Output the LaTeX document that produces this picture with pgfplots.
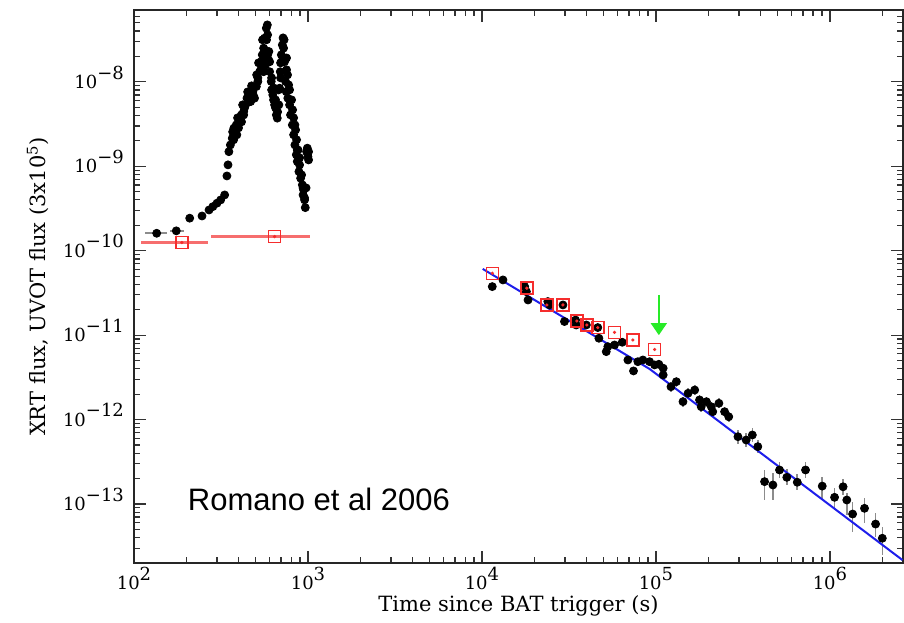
\documentclass[border=0pt]{standalone}
\usepackage{fontspec}
\setmainfont{DejaVu Serif}
\newfontfamily\arialfont{Liberation Sans}
\usepackage{pgfplots}
\pgfplotsset{compat=1.18}
\usetikzlibrary{arrows.meta}

\definecolor{uvotred}{RGB}{245,45,45}
\definecolor{uvotbar}{RGB}{246,110,110}
\definecolor{fitblue}{RGB}{30,30,235}
\definecolor{arrowgreen}{RGB}{40,235,40}
\definecolor{errgray}{RGB}{140,140,140}

% 10^n label, exponent raised and smashed so "10" sits on the tick
\newcommand{\tl}[1]{10\smash{\raisebox{0.52em}{#1}}}

\begin{document}
\begin{tikzpicture}
\begin{axis}[
  xmode=log, ymode=log,
  scale only axis, width=384.5pt, height=276.5pt,
  xmin=100, xmax=2.63e6, ymin=2e-14, ymax=7.1e-8,
  xtick={1e2,1e3,1e4,1e5,1e6},
  xticklabels={\tl{2},\tl{3},\tl{4},\tl{5},\tl{6}},
  ytick={1e-13,1e-12,1e-11,1e-10,1e-9,1e-8},
  yticklabels={\tl{−13},\tl{−12},\tl{−11},\tl{−10},\tl{−9},\tl{−8}},
  minor xtick={200,300,400,500,600,700,800,900,2000,3000,4000,5000,6000,7000,8000,9000,
    2e4,3e4,4e4,5e4,6e4,7e4,8e4,9e4,2e5,3e5,4e5,5e5,6e5,7e5,8e5,9e5,2e6},
  minor ytick={3e-14,4e-14,5e-14,6e-14,7e-14,8e-14,9e-14,
    2e-13,3e-13,4e-13,5e-13,6e-13,7e-13,8e-13,9e-13,
    2e-12,3e-12,4e-12,5e-12,6e-12,7e-12,8e-12,9e-12,
    2e-11,3e-11,4e-11,5e-11,6e-11,7e-11,8e-11,9e-11,
    2e-10,3e-10,4e-10,5e-10,6e-10,7e-10,8e-10,9e-10,
    2e-9,3e-9,4e-9,5e-9,6e-9,7e-9,8e-9,9e-9,
    2e-8,3e-8,4e-8,5e-8,6e-8,7e-8},
  tick align=inside,
  major tick length=6pt, minor tick length=3pt,
  axis line style={black!85, line width=1pt},
  tick style={black!80, line width=0.6pt},
  tick label style={font=\fontsize{9}{10}\selectfont},
  xticklabel style={yshift=-3pt},
  yticklabel style={xshift=-1.5pt},
  label style={font=\fontsize{10.5}{12}\selectfont},
  xlabel={Time since BAT trigger (s)},
  xlabel style={at={(axis description cs:0.5,-0.0868)}, anchor=base},
  ylabel={XRT flux, UVOT flux (3x10\textsuperscript{5})},
  ylabel style={at={(axis description cs:-0.125,0.5)}, anchor=center},
]

% XRT flare (early, black dots)
\addplot[only marks, mark=*, mark size=2pt, black] table[x=t, y=f] {
t f
209 2.43e-10
246 2.58e-10
270 3.04e-10
284 3.33e-10
300 3.66e-10
315 4.00e-10
332 4.58e-10
342 7.69e-10
347 1.04e-9
351 1.49e-9
358 1.79e-9
367 2.15e-9
369 2.56e-9
374 2.06e-9
375 2.83e-9
384 2.56e-9
387 3.09e-9
390 2.36e-9
394 3.75e-9
399 2.85e-9
404 3.39e-9
414 4.06e-9
415 3.36e-9
421 5.34e-9
427 4.45e-9
427 4.06e-9
432 4.92e-9
438 5.34e-9
446 6.41e-9
450 7.61e-9
456 5.79e-9
457 7.01e-9
468 5.84e-9
468 7.21e-9
474 8.97e-9
482 7.67e-9
487 6.83e-9
493 6.41e-9
505 8.80e-9
507 1.21e-8
515 1.01e-8
515 1.115e-8
520 1.68e-8
527 1.32e-8
539 1.74e-8
541 1.466e-8
546 2.09e-8
548 3.15e-8
556 2.51e-8
556 1.32e-8
556 1.82e-8
563 3.30e-8
563 2.39e-8
570 1.59e-8
576 4.33e-8
578 3.15e-8
584 4.73e-8
586 3.61e-8
586 2.09e-8
594 1.82e-8
596 2.29e-8
602 1.32e-8
602 1.73e-8
615 1.01e-8
618 8.04e-9
618 1.115e-8
628 7.01e-9
634 6.12e-9
634 8.49e-9
643 5.34e-9
651 4.92e-9
651 6.12e-9
658 4.06e-9
666 3.72e-9
669 4.41e-9
678 8.04e-9
680 5.34e-9
687 8.42e-9
693 1.32e-8
696 1.68e-8
696 1.115e-8
703 2.09e-8
712 2.74e-8
715 1.82e-8
719 3.32e-8
724 2.51e-8
729 3.15e-8
734 1.74e-8
743 1.01e-8
750 7.67e-9
753 1.39e-8
753 1.92e-8
763 1.21e-8
766 6.41e-9
774 9.21e-9
784 5.34e-9
784 8.04e-9
794 4.06e-9
805 6.12e-9
813 3.09e-9
816 4.66e-9
827 2.36e-9
827 3.75e-9
841 1.79e-9
841 3.09e-9
849 2.70e-9
857 1.37e-9
860 2.06e-9
868 1.14e-9
868 1.56e-9
877 1.56e-9
887 8.65e-10
895 1.04e-9
895 1.26e-9
907 7.23e-10
919 7.91e-10
928 6.03e-10
937 4.58e-10
937 5.55e-10
944 5.25e-10
956 4.00e-10
956 4.22e-10
965 3.24e-10
975 5.55e-10
982 1.49e-9
991 1.64e-9
999 1.30e-9
1008 1.49e-9
1008 1.19e-9
};

% first two XRT points with time bins
\addplot[only marks, mark=*, mark size=2pt, black,
  error bars/.cd, x dir=both, x explicit, error mark=none,
  error bar style={errgray, line width=0.8pt}]
  coordinates {(135,1.61e-10) += (19,0) -= (20,0)
               (175,1.72e-10) += (18,0) -= (15,0)};

% XRT late decay
\addplot[only marks, mark=*, mark size=2pt, black,
  error bars/.cd, y dir=both, y explicit, error mark=none,
  error bar style={errgray, line width=0.8pt}]
  table[x=t, y=f, y error plus=ep, y error minus=em] {
t f ep em
1.146e4 3.76e-11 0 0
1.32e4 4.51e-11 0 0
1.76e4 3.76e-11 0 0
1.80e4 3.28e-11 0 0
1.84e4 2.61e-11 0 0
2.39e4 2.50e-11 0 0
2.45e4 2.28e-11 0 0
2.92e4 2.28e-11 0 0
2.98e4 1.45e-11 0 0
3.45e4 1.51e-11 0 0
3.48e4 1.32e-11 0 0
3.98e4 1.32e-11 0 0
4.63e4 1.23e-11 0 0
4.70e4 9.19e-12 0 0
5.18e4 6.38e-12 0 0
5.29e4 7.31e-12 0 0
5.78e4 7.65e-12 0 0
6.40e4 8.24e-12 0 0
6.90e4 5.08e-12 0 0
7.43e4 3.77e-12 0 0
7.87e4 4.85e-12 0 0
8.41e4 5.08e-12 0 0
9.19e4 4.85e-12 0 0
9.82e4 4.44e-12 0 0
1.039e5 4.52e-12 0 0
1.10e5 4.06e-12 0 0
1.10e5 3.38e-12 0 0
1.22e5 2.45e-12 0.36e-12 0.31e-12
1.31e5 2.81e-12 0.41e-12 0.36e-12
1.43e5 1.63e-12 0.24e-12 0.21e-12
1.53e5 2.05e-12 0.30e-12 0.26e-12
1.67e5 2.24e-12 0.33e-12 0.28e-12
1.78e5 1.71e-12 0.25e-12 0.22e-12
1.82e5 1.42e-12 0.21e-12 0.18e-12
1.95e5 1.63e-12 0.24e-12 0.21e-12
2.08e5 1.42e-12 0.21e-12 0.18e-12
2.12e5 1.24e-12 0.18e-12 0.16e-12
2.30e5 1.56e-12 0.23e-12 0.20e-12
2.48e5 1.24e-12 0.18e-12 0.16e-12
2.62e5 1.08e-12 0.16e-12 0.14e-12
2.96e5 6.27e-13 1.3e-13 1.1e-13
3.30e5 5.73e-13 1.2e-13 1.0e-13
3.58e5 6.57e-13 1.4e-13 1.1e-13
3.85e5 4.78e-13 1.0e-13 0.8e-13
4.21e5 1.84e-13 0.69e-13 0.725e-13
4.70e5 1.68e-13 0.65e-13 0.565e-13
5.13e5 2.53e-13 0.62e-13 0.50e-13
5.65e5 2.07e-13 0.505e-13 0.41e-13
6.49e5 1.81e-13 0.44e-13 0.36e-13
7.24e5 2.53e-13 0.62e-13 0.50e-13
9.03e5 1.63e-13 0.46e-13 0.515e-13
1.063e6 1.20e-13 0.35e-13 0.30e-13
1.19e6 1.60e-13 0.39e-13 0.31e-13
1.25e6 1.115e-13 0.235e-13 0.37e-13
1.35e6 7.61e-14 3.0e-14 2.95e-14
1.58e6 8.89e-14 2.9e-14 2.9e-14
1.83e6 5.79e-14 2.03e-14 1.73e-14
2.00e6 3.93e-14 1.41e-14 1.44e-14
};

% broken power-law fit
\addplot[fitblue, line width=1pt, mark=none] coordinates {
  (1.01e4,6.09e-11) (9.19e4,3.98e-12) (2.61e6,2.17e-14)
};

% UVOT early (binned)
\addplot[only marks, mark=square, mark size=3pt, uvotred,
  mark options={line width=0.75pt, fill=none},
  error bars/.cd, x dir=both, x explicit, error mark=none,
  error bar style={uvotbar, line width=1.3pt}]
  coordinates {(188.5,1.25e-10) += (77.5,0) -= (78.5,0)
               (643,1.47e-10) += (378,0) -= (365,0)};

% UVOT late
\addplot[only marks, mark=square, mark size=3pt, uvotred,
  mark options={line width=0.75pt, fill=none}] table[x=t, y=f] {
t f
1.146e4 5.41e-11
1.81e4 3.60e-11
2.36e4 2.28e-11
2.92e4 2.28e-11
3.51e4 1.47e-11
4.01e4 1.32e-11
4.63e4 1.23e-11
5.78e4 1.08e-11
7.36e4 8.77e-12
9.82e4 6.77e-12
};
\addplot[only marks, mark=*, mark size=0.6pt, uvotred] table[x=t, y=f] {
t f
188.5 1.25e-10
643 1.47e-10
1.146e4 5.41e-11
1.81e4 3.60e-11
2.36e4 2.28e-11
2.92e4 2.28e-11
3.51e4 1.47e-11
4.01e4 1.32e-11
4.63e4 1.23e-11
5.78e4 1.08e-11
7.36e4 8.77e-12
9.82e4 6.77e-12
};

\draw[arrowgreen, line width=0.8pt, -{Triangle[length=6pt,width=8pt]}]
  (axis cs:1.039e5,2.99e-11) -- (axis cs:1.039e5,1.0e-11);

\node[anchor=base west, inner sep=0pt,
  font={\arialfont\fontsize{15.5}{18}\selectfont}]
  at (axis cs:203,8.49e-14) {Romano et al 2006};
\end{axis}
\pgfresetboundingbox
\path[use as bounding box] (-67pt,-29.5pt) rectangle (385pt,281.5pt);
\end{tikzpicture}
\end{document}
